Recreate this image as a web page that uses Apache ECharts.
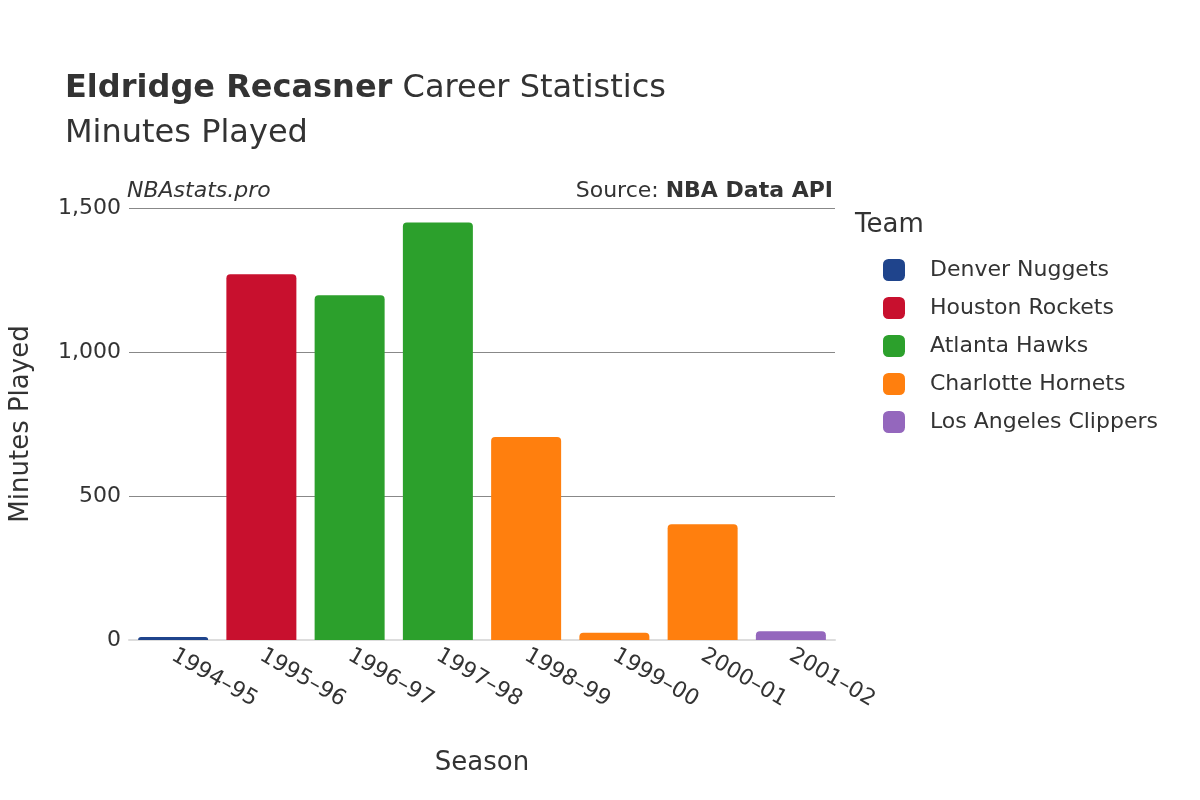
<!DOCTYPE html><html><head><meta charset="utf-8"><script src="https://cdn.jsdelivr.net/npm/echarts@6/dist/echarts.min.js"></script></head><body style="margin:0"><div id="c" style="width:1200px;height:800px"></div><script>
const seasons=['1994–95','1995–96','1996–97','1997–98','1998–99','1999–00','2000–01','2001–02'];
const teams=['Denver Nuggets','Houston Rockets','Atlanta Hawks','Charlotte Hornets','Los Angeles Clippers'];
const colors=['#1f448c','#c8102e','#2ca02c','#ff7f0e','#9467bd'];
const seasonTeam=[0,1,2,2,3,3,3,4];
const minutes=[10,1270,1197,1450,705,25,402,30];
const F='DejaVu Sans';
const series=teams.map((t,ti)=>({name:t,type:'bar',stack:'a',barWidth:70,
 itemStyle:{color:colors[ti],borderRadius:[4,4,0,0]},
 data:minutes.map((v,i)=>seasonTeam[i]===ti?v:null)}));
const ch=echarts.init(document.getElementById('c'));
ch.setOption({animation:false,textStyle:{fontFamily:F},
grid:{left:122,right:365,top:208,bottom:160},
title:[{text:'{b|Eldridge Recasner} Career Statistics',left:60,top:68,textStyle:{fontSize:32,fontWeight:'normal',color:'#333',fontFamily:F,rich:{b:{fontSize:32,fontWeight:'bold',color:'#333',fontFamily:F}}}},
{text:'Minutes Played',left:60,top:113,textStyle:{fontSize:32,fontWeight:'normal',color:'#333',fontFamily:F}}],
graphic:[{type:'text',left:127,top:180,style:{text:'NBAstats.pro',font:'italic 22px "DejaVu Sans"',fill:'#333'}},
{type:'text',right:367,top:180,style:{text:'Source: {b|NBA Data API}',font:'22px "DejaVu Sans"',fill:'#333',rich:{b:{font:'bold 22px "DejaVu Sans"',fill:'#333'}}}},
{type:'text',left:855,top:212,style:{text:'Team',font:'26px "DejaVu Sans"',fill:'#333'}}],
legend:{orient:'vertical',left:878,top:254,itemGap:16,itemWidth:22,itemHeight:22,icon:'roundRect',textStyle:{fontSize:22,color:'#333',padding:[0,0,0,20]},data:teams},
xAxis:{type:'category',data:seasons,name:'Season',nameLocation:'middle',nameGap:110,nameTextStyle:{fontSize:26,color:'#333'},
 axisLine:{lineStyle:{color:'#ddd',width:2}},axisTick:{show:false},axisLabel:{rotate:-30,fontSize:22,color:'#333',margin:14,align:'left'}},
yAxis:{type:'value',min:0,max:1500,interval:500,name:'Minutes Played',nameLocation:'middle',nameGap:95,nameTextStyle:{fontSize:26,color:'#333'},
 axisLabel:{fontSize:22,color:'#333',margin:8},splitLine:{lineStyle:{color:'#888'}}},
series});
</script></body></html>
